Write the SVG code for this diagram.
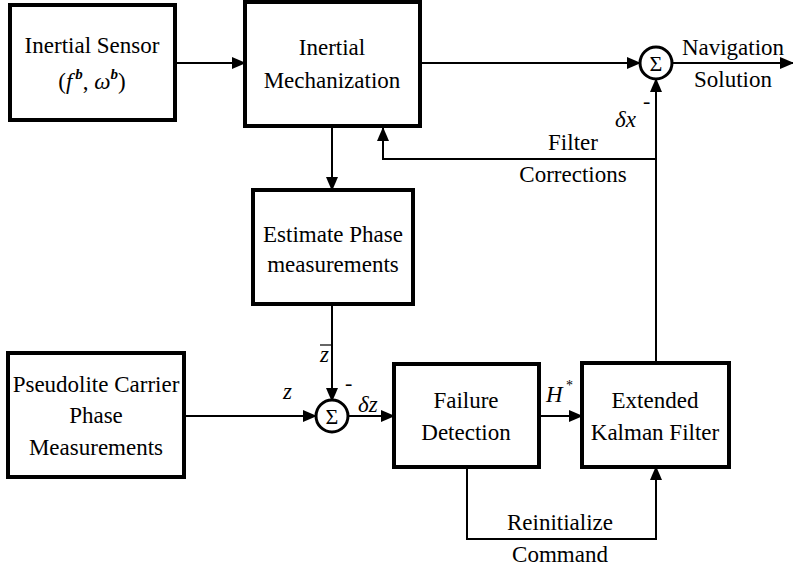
<svg xmlns="http://www.w3.org/2000/svg" width="793" height="573" viewBox="0 0 793 573" font-family="Liberation Serif, serif">
  <style>
    svg text, g text, text, tspan { font-family: 'Liberation Serif', 'Times New Roman', serif !important; }
  </style>
  <defs>
    <marker id="arrow" markerUnits="userSpaceOnUse" markerWidth="14" markerHeight="12" refX="13" refY="6" orient="auto">
      <path d="M0,0 L14,6 L0,12 Z" fill="#000"/>
    </marker>
  </defs>
  <rect width="793" height="573" fill="#fff"/>

  <!-- connectors -->
  <g id="connectors" fill="none" stroke="#000" stroke-width="2">
    <path d="M175,63 H245" marker-end="url(#arrow)"/>
    <path d="M420,63 H640" marker-end="url(#arrow)"/>
    <path d="M672,63 H793" marker-end="url(#arrow)"/>
    <path d="M656,363 V79" marker-end="url(#arrow)"/>
    <path d="M656,159 H383 V128" marker-end="url(#arrow)"/>
    <path d="M332,128 V190" marker-end="url(#arrow)"/>
    <path d="M332,304 V401" marker-end="url(#arrow)"/>
    <path d="M184,416 H316" marker-end="url(#arrow)"/>
    <path d="M348,416 H394" marker-end="url(#arrow)"/>
    <path d="M539,416 H582" marker-end="url(#arrow)"/>
    <path d="M467,467 V539 H656 V467" marker-end="url(#arrow)"/>
  </g>

  <!-- blocks -->
  <g font-size="23" text-anchor="middle" fill="#000">
    <g id="inertial-sensor">
      <rect x="10" y="5" width="165" height="115" fill="#fff" stroke="#000" stroke-width="4"/>
      <text style="font-family: 'Liberation Serif', serif !important" x="92" y="53">Inertial Sensor</text>
      <text style="font-family: 'Liberation Serif', serif !important" x="92" y="89">(<tspan font-style="italic">f</tspan><tspan font-size="15" font-weight="bold" font-style="italic" dx="3" dy="-10">b</tspan><tspan dy="10">, </tspan><tspan font-style="italic">ω</tspan><tspan font-size="15" font-weight="bold" font-style="italic" dy="-10">b</tspan><tspan dy="10">)</tspan></text>
    </g>

    <g id="inertial-mechanization">
      <rect x="245" y="2" width="175" height="124" fill="#fff" stroke="#000" stroke-width="4"/>
      <text style="font-family: 'Liberation Serif', serif !important" x="332" y="55">Inertial</text>
      <text style="font-family: 'Liberation Serif', serif !important" x="332" y="88">Mechanization</text>
    </g>

    <g id="estimate-phase">
      <rect x="253" y="190" width="160" height="114" fill="#fff" stroke="#000" stroke-width="4"/>
      <text style="font-family: 'Liberation Serif', serif !important" x="333" y="242">Estimate Phase</text>
      <text style="font-family: 'Liberation Serif', serif !important" x="333" y="272">measurements</text>
    </g>

    <g id="pseudolite">
      <rect x="8" y="353" width="176" height="124" fill="#fff" stroke="#000" stroke-width="4"/>
      <text style="font-family: 'Liberation Serif', serif !important" x="96" y="392">Pseudolite Carrier</text>
      <text style="font-family: 'Liberation Serif', serif !important" x="96" y="423">Phase</text>
      <text style="font-family: 'Liberation Serif', serif !important" x="96" y="455">Measurements</text>
    </g>

    <g id="failure-detection">
      <rect x="394" y="364" width="145" height="103" fill="#fff" stroke="#000" stroke-width="4"/>
      <text style="font-family: 'Liberation Serif', serif !important" x="466" y="408">Failure</text>
      <text style="font-family: 'Liberation Serif', serif !important" x="466" y="440">Detection</text>
    </g>

    <g id="ekf">
      <rect x="582" y="363" width="147" height="104" fill="#fff" stroke="#000" stroke-width="4"/>
      <text style="font-family: 'Liberation Serif', serif !important" x="655" y="408">Extended</text>
      <text style="font-family: 'Liberation Serif', serif !important" x="655" y="440">Kalman Filter</text>
    </g>

    <g id="sum-nav">
      <circle cx="656" cy="63" r="16" fill="#fff" stroke="#000" stroke-width="3"/>
      <text style="font-family: 'Liberation Serif', serif !important" font-size="22" x="656" y="71">Σ</text>
    </g>

    <g id="sum-meas">
      <circle cx="332" cy="416" r="16" fill="#fff" stroke="#000" stroke-width="3"/>
      <text style="font-family: 'Liberation Serif', serif !important" font-size="22" x="332" y="424">Σ</text>
    </g>

    <!-- signal labels -->
    <g id="labels">
      <text style="font-family: 'Liberation Serif', serif !important" x="733" y="55">Navigation</text>
      <text style="font-family: 'Liberation Serif', serif !important" x="733" y="87">Solution</text>
      <text style="font-family: 'Liberation Serif', serif !important" x="573" y="150">Filter</text>
      <text style="font-family: 'Liberation Serif', serif !important" x="573" y="182">Corrections</text>
      <text style="font-family: 'Liberation Serif', serif !important" x="560" y="530">Reinitialize</text>
      <text style="font-family: 'Liberation Serif', serif !important" x="560" y="562">Command</text>
      <g text-anchor="start" font-style="italic">
        <text style="font-family: 'Liberation Serif', serif !important" x="615" y="127">δx</text>
        <text style="font-family: 'Liberation Serif', serif !important" x="320" y="362">z</text>
        <text style="font-family: 'Liberation Serif', serif !important" x="283" y="399">z</text>
        <text style="font-family: 'Liberation Serif', serif !important" x="358" y="412">δz</text>
        <text style="font-family: 'Liberation Serif', serif !important" x="546" y="402">H</text>
      </g>
      <g text-anchor="start">
        <text style="font-family: 'Liberation Serif', serif !important" font-size="22" x="643" y="108">-</text>
        <text style="font-family: 'Liberation Serif', serif !important" font-size="22" x="345" y="390">-</text>
        <text style="font-family: 'Liberation Serif', serif !important" font-size="14" x="566" y="390">*</text>
      </g>
      <line x1="320" y1="345" x2="331" y2="345" stroke="#000" stroke-width="1.2"/>
    </g>
  </g>
</svg>
